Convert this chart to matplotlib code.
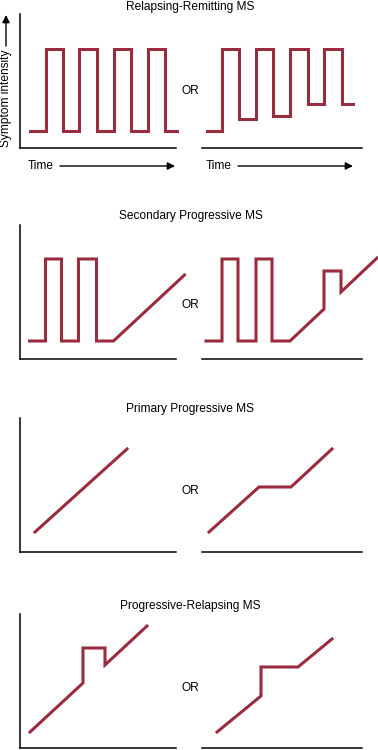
import matplotlib
matplotlib.use('Agg')
import matplotlib.pyplot as plt

plt.rcParams['font.family'] = ['Liberation Sans', 'DejaVu Sans']

W, H = 378, 750
RED = '#9b2b3e'

# Panel titles, one per row
titles = ['Relapsing-Remitting MS', 'Secondary Progressive MS',
          'Primary Progressive MS', 'Progressive-Relapsing MS']

# Symptom curves (time, intensity), one pair per panel
rr_a_t = [10, 26, 26, 43, 43, 59, 59, 77, 77, 94, 94, 111, 111, 128, 128, 145, 145, 157]
rr_a_y = [17, 17, 99, 99, 17, 17, 99, 99, 17, 17, 99, 99, 17, 17, 99, 99, 17, 17]
rr_b_t = [5, 20, 20, 37, 37, 54, 54, 71, 71, 88, 88, 106, 106, 122, 122, 140, 140, 151]
rr_b_y = [17, 17, 99, 99, 29, 29, 99, 99, 32, 32, 99, 99, 44, 44, 99, 99, 44, 44]

sp_a_t = [10, 26, 26, 42, 42, 59, 59, 77, 77, 94, 165]
sp_a_y = [18, 18, 100, 100, 18, 18, 100, 100, 18, 18, 84]
sp_b_t = [4, 20, 20, 36, 36, 54, 54, 70, 70, 88, 122, 122, 139, 139, 175]
sp_b_y = [18, 18, 100, 100, 18, 18, 100, 100, 18, 18, 50, 88, 88, 67, 101]

pp_a_t = [15.5, 107.5]
pp_a_y = [20, 103]
pp_b_t = [7, 57, 89, 130]
pp_b_y = [20, 65, 65, 103]

pr_a_t = [10.5, 63.5, 63.5, 85.5, 85.5, 127.5]
pr_a_y = [16, 65, 100, 100, 83, 122]
pr_b_t = [15, 59, 59, 96, 130]
pr_b_y = [16, 52, 81, 81, 109]

curves = [((rr_a_t, rr_a_y), (rr_b_t, rr_b_y)),
          ((sp_a_t, sp_a_y), (sp_b_t, sp_b_y)),
          ((pp_a_t, pp_a_y), (pp_b_t, pp_b_y)),
          ((pr_a_t, pr_a_y), (pr_b_t, pr_b_y))]

# row layout in pixels: bottom of axes, title y, "OR" y
row_bottom = [148, 359, 552, 748]
title_y = [7, 216, 409, 606]
or_y = [91, 305, 491, 688]
PANEL_H = 134


def add_panel(fig, x0, bottom, w, left_spine):
    ax = fig.add_axes([x0 / W, 1 - bottom / H, w / W, PANEL_H / H])
    ax.set_xlim(0, w)
    ax.set_ylim(0, PANEL_H)
    ax.patch.set_alpha(0)
    for s in ['top', 'right']:
        ax.spines[s].set_visible(False)
    ax.spines['left'].set_visible(left_spine)
    for s in ['left', 'bottom']:
        ax.spines[s].set_linewidth(1.1)
    ax.set_xticks([])
    ax.set_yticks([])
    return ax


fig = plt.figure(figsize=(W / 100, H / 100), dpi=100)

for i in range(4):
    (ta, ya), (tb, yb) = curves[i]
    ax_l = add_panel(fig, 19.5, row_bottom[i], 156.5, True)
    ax_l.plot(ta, ya, color=RED, lw=2.2, solid_joinstyle='miter', clip_on=False)
    ax_r = add_panel(fig, 202, row_bottom[i], 160, False)
    ax_r.plot(tb, yb, color=RED, lw=2.2, solid_joinstyle='miter', clip_on=False)

# overlay for text and annotation arrows, in pixel units
ov = fig.add_axes([0, 0, 1, 1])
ov.set_xlim(0, W)
ov.set_ylim(H, 0)
ov.axis('off')
ov.patch.set_alpha(0)

for i in range(4):
    ov.text(190.5, title_y[i], titles[i], ha='center', va='center', fontsize=8.6)
    ov.text(190.5, or_y[i], 'OR', ha='center', va='center', fontsize=8.6)

for x_text, x0, x1 in [(28, 60, 175), (206, 238, 353)]:
    ov.text(x_text, 166, 'Time', ha='left', va='center', fontsize=8.6)
    ov.annotate('', xy=(x1, 166), xytext=(x0, 166),
                arrowprops=dict(arrowstyle='-|>', lw=1.0, color='black',
                                mutation_scale=11, shrinkA=0, shrinkB=0))

ov.text(6, 147, 'Symptom intensity', rotation=90, ha='center', va='bottom',
        fontsize=8.6)
ov.annotate('', xy=(6, 15), xytext=(6, 46),
            arrowprops=dict(arrowstyle='-|>', lw=1.0, color='black',
                            mutation_scale=11, shrinkA=0, shrinkB=0))

fig.savefig('out.png', dpi=100)
